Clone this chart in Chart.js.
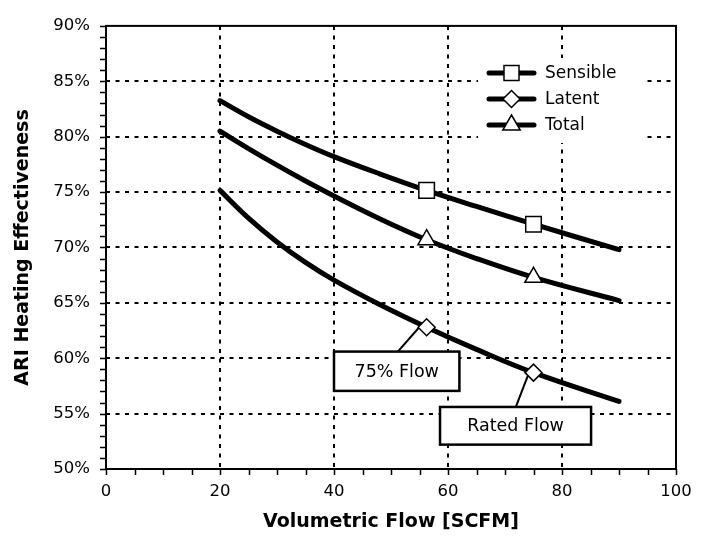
<!DOCTYPE html>
<html>
<head>
<meta charset="utf-8">
<script src="https://cdn.jsdelivr.net/npm/chart.js@4"></script>
<style>
    html, body { margin: 0; padding: 0; background: #fff; }
    #wrap { width: 708px; height: 543px; }
</style>
</head>
<body>
<div id="wrap"><canvas id="js--chart"></canvas></div>
<script>
// values
const flows = [20, 25, 30, 35, 40, 48, 56.25, 65, 75, 90];
const sensible = [83.25, 81.8, 80.5, 79.3, 78.2, 76.65, 75.15, 73.7, 72.1, 69.8];
const total = [80.5, 78.93, 77.43, 76.0, 74.65, 72.6, 70.7, 69.0, 67.3, 65.2];
const latent = [75.15, 72.65, 70.5, 68.65, 67.05, 64.85, 62.8, 60.8, 58.7, 56.1];
const markedFlows = [56.25, 75];
const seriesNames = ["Sensible", "Latent", "Total"];
const notes = ["75% Flow", "Rated Flow"];

const FONT = "'DejaVu Sans', Verdana, sans-serif";

function points(values) {
    return flows.map(function (f, i) { return { x: f, y: values[i] }; });
}
function radii(r) {
    return flows.map(function (f) { return markedFlows.indexOf(f) >= 0 ? r : 0; });
}

function lineSet(label, values, style, r) {
    return {
        label: label,
        data: points(values),
        borderColor: '#000',
        borderWidth: 5,
        borderCapStyle: 'round',
        tension: 0.4,
        pointStyle: style,
        pointRadius: radii(r),
        pointHoverRadius: radii(r),
        pointBackgroundColor: '#fff',
        pointBorderColor: '#000',
        pointBorderWidth: 1.5
    };
}

function drawMarker(ctx, style, x, y) {
    ctx.beginPath();
    if (style === 'rect') {
        ctx.rect(x - 7.5, y - 7.5, 15, 15);
    } else if (style === 'rectRot') {
        ctx.moveTo(x, y - 8.5); ctx.lineTo(x + 8.5, y);
        ctx.lineTo(x, y + 8.5); ctx.lineTo(x - 8.5, y); ctx.closePath();
    } else {
        ctx.moveTo(x, y - 10); ctx.lineTo(x + 8.7, y + 5);
        ctx.lineTo(x - 8.7, y + 5); ctx.closePath();
    }
    ctx.fillStyle = '#fff';
    ctx.fill();
    ctx.lineWidth = 1.5;
    ctx.strokeStyle = '#000';
    ctx.stroke();
}

const extras = {
    id: 'extras',
    beforeDatasetsDraw(chart) {
        const ctx = chart.ctx;
        const x = chart.scales.x, y = chart.scales.y;
        ctx.save();
        // legend background hides the grid behind it
        ctx.fillStyle = '#fff';
        ctx.fillRect(478, 58, 166, 85);
        // note boxes with leader lines (data coordinates)
        const boxes = [
            { text: notes[0], x0: 40, x1: 62, y0: 60.6, y1: 57.05, from: [51.2, 60.6], to: [55.3, 63.0] },
            { text: notes[1], x0: 58.6, x1: 85.1, y0: 55.6, y1: 52.2, from: [71.9, 55.6], to: [74.0, 58.4] }
        ];
        boxes.forEach(function (b) {
            ctx.beginPath();
            ctx.moveTo(x.getPixelForValue(b.from[0]), y.getPixelForValue(b.from[1]));
            ctx.lineTo(x.getPixelForValue(b.to[0]), y.getPixelForValue(b.to[1]));
            ctx.lineWidth = 2;
            ctx.strokeStyle = '#000';
            ctx.stroke();
            const l = x.getPixelForValue(b.x0), r = x.getPixelForValue(b.x1);
            const t = y.getPixelForValue(b.y0), btm = y.getPixelForValue(b.y1);
            ctx.fillStyle = '#fff';
            ctx.fillRect(l, t, r - l, btm - t);
            ctx.lineWidth = 2.5;
            ctx.strokeRect(l, t, r - l, btm - t);
            ctx.fillStyle = '#000';
            ctx.font = '17.5px ' + FONT;
            ctx.textAlign = 'center';
            ctx.textBaseline = 'middle';
            ctx.fillText(b.text, (l + r) / 2, (t + btm) / 2 + 1);
        });
        ctx.restore();
    },
    afterDraw(chart) {
        const ctx = chart.ctx;
        const a = chart.chartArea;
        const x = chart.scales.x, y = chart.scales.y;
        ctx.save();
        ctx.strokeStyle = '#000';
        // minor + major tick marks
        ctx.lineWidth = 1.5;
        ctx.beginPath();
        for (let v = 50; v <= 90; v += 1) {
            const py = Math.round(y.getPixelForValue(v)) + 0.5;
            ctx.moveTo(a.left - 6, py); ctx.lineTo(a.left, py);
        }
        for (let v = 0; v <= 100; v += 5) {
            const px = Math.round(x.getPixelForValue(v)) + 0.5;
            ctx.moveTo(px, a.bottom); ctx.lineTo(px, a.bottom + 6);
        }
        ctx.stroke();
        // frame
        ctx.lineWidth = 2;
        ctx.strokeRect(a.left, a.top, a.right - a.left, a.bottom - a.top);

        // legend
        const styles = ['rect', 'rectRot', 'triangle'];
        const rows = [73, 99, 125];
        ctx.font = '17px ' + FONT;
        ctx.textAlign = 'left';
        ctx.textBaseline = 'middle';
        styles.forEach(function (s, i) {
            ctx.beginPath();
            ctx.moveTo(489, rows[i]); ctx.lineTo(534, rows[i]);
            ctx.lineWidth = 5;
            ctx.lineCap = 'round';
            ctx.stroke();
            drawMarker(ctx, s, 511.5, rows[i]);
            ctx.fillStyle = '#000';
            ctx.fillText(seriesNames[i], 545, rows[i] + 1);
        });
        ctx.restore();
    }
};

function gridColor(c) {
    const v = c.tick && c.tick.value;
    const s = c.scale;
    return (v === s.min || v === s.max) ? 'rgba(0,0,0,0)' : '#000';
}

const config = {
    type: 'line',
    data: {
        datasets: [
            lineSet(seriesNames[0], sensible, 'rect', 11),
            lineSet(seriesNames[1], latent, 'rectRot', 8.5),
            lineSet(seriesNames[2], total, 'triangle', 10)
        ]
    },
    options: {
        responsive: true,
        maintainAspectRatio: false,
        animation: false,
        layout: { padding: { left: 0, right: 32, top: 17, bottom: 0 } },
        plugins: { legend: { display: false }, tooltip: { enabled: false } },
        scales: {
            x: {
                type: 'linear',
                min: 0, max: 100,
                afterFit: function (s) { s.height = 74; },
                ticks: { stepSize: 20, padding: 13, color: '#000', font: { family: FONT, size: 16.5 } },
                grid: { color: gridColor, lineWidth: 2, drawTicks: false },
                border: { display: false, dash: [4, 5.5] },
                title: { display: true, text: 'Volumetric Flow [SCFM]', color: '#000',
                         font: { family: FONT, size: 19, weight: 'bold' }, padding: { top: 4, bottom: 10 } }
            },
            y: {
                min: 50, max: 90,
                afterFit: function (s) { s.width = 106; },
                ticks: { stepSize: 5, padding: 16, color: '#000', font: { family: FONT, size: 16.5 },
                         callback: function (v) { return v + '%'; } },
                grid: { color: gridColor, lineWidth: 2, drawTicks: false },
                border: { display: false, dash: [4, 5.5] },
                title: { display: true, text: 'ARI Heating Effectiveness', color: '#000',
                         font: { family: FONT, size: 19, weight: 'bold' }, padding: { top: 12, bottom: 4 } }
            }
        }
    },
    plugins: [extras]
};

const myChart = new Chart(document.getElementById('js--chart'), config);
</script>
</body>
</html>
